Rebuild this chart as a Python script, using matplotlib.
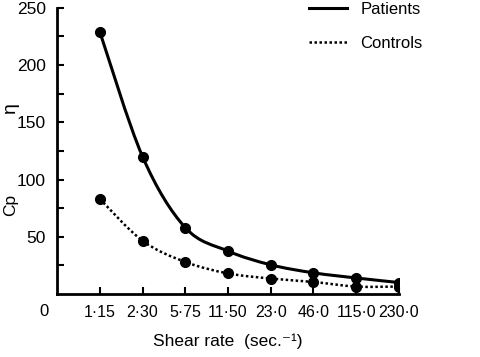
import numpy as np
import matplotlib
matplotlib.use('Agg')
import matplotlib.pyplot as plt
from matplotlib.path import Path
from matplotlib.patches import PathPatch
from matplotlib.lines import Line2D

# Dados
shear_labels = ['1·15', '2·30', '5·75', '11·50', '23·0', '46·0', '115·0', '230·0']
patients = [229, 120, 58, 37.5, 25.5, 18.5, 14, 10]
controls = [83, 46.5, 28, 18, 13.5, 10.5, 6.5, 6.5]

plt.rcParams['font.family'] = ['Liberation Sans', 'DejaVu Sans']
plt.rcParams['font.size'] = 11


def curva(ax, x, y, **kw):
    # curva suave (Catmull-Rom -> Bezier) passando pelos pontos
    x = np.asarray(x, float)
    y = np.asarray(y, float)
    pts = np.column_stack([x, y])
    verts = [pts[0]]
    codes = [Path.MOVETO]
    n = len(pts)
    for i in range(n - 1):
        p0 = pts[i - 1] if i > 0 else pts[i]
        p1 = pts[i]
        p2 = pts[i + 1]
        p3 = pts[i + 2] if i + 2 < n else pts[i + 1]
        c1 = p1 + (p2 - p0) / 6.0
        c2 = p2 - (p3 - p1) / 6.0
        verts += [c1, c2, p2]
        codes += [Path.CURVE4] * 3
    patch = PathPatch(Path(verts, codes), facecolor='none', **kw)
    ax.add_patch(patch)


fig = plt.figure(figsize=(4.8, 3.57), dpi=100)
ax = fig.add_axes([0.119, 0.1765, 0.712, 0.8015])

xs = np.arange(1, len(shear_labels) + 1)

curva(ax, xs, patients, edgecolor='black', linewidth=2.2)
curva(ax, xs, controls, edgecolor='black', linewidth=1.8, linestyle=(0, (1, 1)))
ax.plot(xs, patients, 'o', color='black', markersize=7)
ax.plot(xs, controls, 'o', color='black', markersize=7)

ax.set_xlim(0, 8)
ax.set_ylim(0, 250)
ax.set_xticks(xs)
ax.set_xticklabels(shear_labels)
ax.set_yticks([50, 100, 150, 200, 250])
ax.set_yticks([25, 75, 125, 175, 225], minor=True)
ax.tick_params(direction='in', length=5, width=1.5, pad=8)
ax.tick_params(axis='x', labelsize=11.5)
ax.tick_params(axis='y', labelsize=12.5)
ax.tick_params(which='minor', direction='in', length=5, width=1.5)
for s in ['top', 'right']:
    ax.spines[s].set_visible(False)
for s in ['left', 'bottom']:
    ax.spines[s].set_linewidth(2)

ax.text(-0.3, -0.035, '0', transform=ax.get_xaxis_transform(),
        ha='center', va='top', fontsize=12)
ax.set_xlabel('Shear rate  (sec.⁻¹)', fontsize=12.5, labelpad=10)
fig.text(0.022, 0.426, 'Cp', rotation=90, ha='center', va='center', fontsize=12.5)
fig.text(0.022, 0.70, 'η', rotation=90, ha='center', va='center', fontsize=14)

handles = [Line2D([], [], color='black', linewidth=2.2),
           Line2D([], [], color='black', linewidth=1.8, linestyle=(0, (1, 1)))]
fig.legend(handles, ['Patients', 'Controls'], loc='upper left',
           bbox_to_anchor=(0.612, 1.037), frameon=False, handlelength=2.3,
           labelspacing=1.15, fontsize=12)

fig.savefig('out.png', dpi=100)
